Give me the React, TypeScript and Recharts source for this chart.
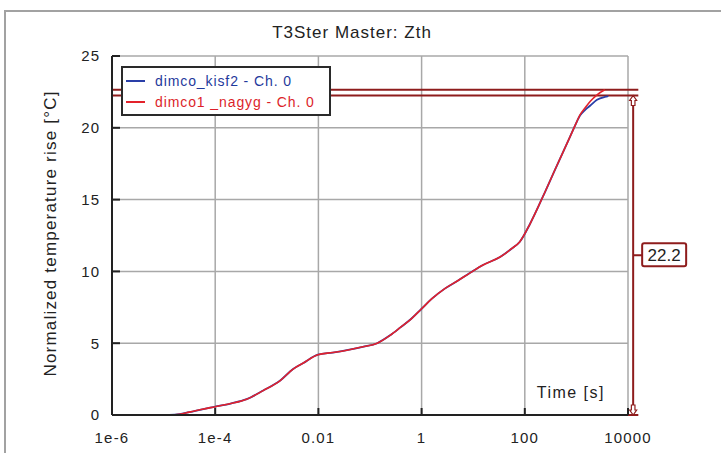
import {
  LineChart,
  Line,
  XAxis,
  YAxis,
  CartesianGrid,
  ReferenceLine,
} from 'recharts'

// time axis is stored as log10(t / s)
const xTicks = [-6, -4, -2, 0, 2, 4]
const xTickLabels = ['1e-6', '1e-4', '0.01', '1', '100', '10000']
const yTicks = [0, 5, 10, 15, 20, 25]

const nagygTime = [
  -6, -5, -4.78, -4.5, -4.25, -4, -3.7, -3.39, -3.07, -2.74, -2.49, -2.3, -2.01,
  -1.72, -1.4, -1.14, -0.86, -0.61, -0.41, -0.2, 0, 0.2, 0.45, 0.7, 0.94, 1.19,
  1.52, 1.75, 1.9, 2.1, 2.35, 2.6, 2.88, 2.98, 3.07, 3.17, 3.27, 3.4, 3.55,
]
const nagygRise = [
  0, 0, 0.02, 0.2, 0.4, 0.58, 0.8, 1.1, 1.7, 2.4, 3.2, 3.6, 4.2, 4.35, 4.55,
  4.75, 5.0, 5.55, 6.1, 6.7, 7.4, 8.1, 8.8, 9.35, 9.9, 10.45, 11.0, 11.6, 12.05,
  13.3, 15.2, 17.2, 19.4, 20.2, 20.9, 21.4, 21.85, 22.3, 22.65,
]
const kisf2Time = [
  -6, -5, -4.78, -4.5, -4.25, -4, -3.7, -3.39, -3.07, -2.74, -2.49, -2.3, -2.01,
  -1.72, -1.4, -1.14, -0.86, -0.61, -0.41, -0.2, 0, 0.2, 0.45, 0.7, 0.94, 1.19,
  1.52, 1.75, 1.9, 2.1, 2.35, 2.6, 2.88, 2.98, 3.07, 3.17, 3.27, 3.4, 3.55, 3.62,
]
const kisf2Rise = [
  0, 0, 0.02, 0.2, 0.4, 0.58, 0.8, 1.1, 1.7, 2.4, 3.2, 3.6, 4.2, 4.35, 4.55,
  4.75, 5.0, 5.55, 6.1, 6.7, 7.4, 8.1, 8.8, 9.35, 9.9, 10.45, 11.0, 11.6, 12.05,
  13.3, 15.2, 17.2, 19.4, 20.2, 20.85, 21.25, 21.55, 21.95, 22.15, 22.2,
]

const seriesNames = ['dimco_kisf2 - Ch. 0', 'dimco1 _nagyg - Ch. 0']
const seriesColors = ['#2a3fa8', '#e3222b']

// cursor lines of the measurement
const cursorTop = 22.65
const cursorLow = 22.25
const cursorX = 4.1
const cursorEnd = 4.2
const riseDelta = 22.2

const kisf2Data = kisf2Time.map((t, i) => ({ t, v: kisf2Rise[i] }))
const nagygData = nagygTime.map((t, i) => ({ t, v: nagygRise[i] }))

const FONT = '"Liberation Sans", Arial, sans-serif'
const DARK_RED = '#8e1c1c'

function BottomTick({ x, y, payload }: any) {
  const i = xTicks.indexOf(payload.value)
  return (
    <g>
      <line x1={x} x2={x} y1={y - 17} y2={y - 24} stroke="#222" strokeWidth={2} />
      <text x={x} y={y} dy="0.71em" textAnchor="middle" fontSize={15} letterSpacing={1.2} fill="#222" fontFamily={FONT}>
        {xTickLabels[i]}
      </text>
    </g>
  )
}

function TopTick({ x, y }: any) {
  return <line x1={x} x2={x} y1={y} y2={y + 7} stroke="#222" strokeWidth={2} />
}

function LeftTick({ x, y, payload }: any) {
  return (
    <g>
      <line x1={x + 12} x2={x + 20} y1={y} y2={y} stroke="#222" strokeWidth={2} />
      <text x={x} y={y} dy="0.36em" textAnchor="end" fontSize={15} letterSpacing={1} fill="#222" fontFamily={FONT}>
        {payload.value}
      </text>
    </g>
  )
}

function RightTick({ x, y }: any) {
  return <line x1={x} x2={x - 8} y1={y} y2={y} stroke="#222" strokeWidth={2} />
}

function DimensionLine(props: any) {
  const { x1, y1, y2 } = props
  const mid = (y1 + y2) / 2
  const up = `${x1},${y1} ${x1 - 3.5},${y1 + 5} ${x1 - 1.8},${y1 + 5} ${x1 - 1.8},${y1 + 10} ${x1 + 1.8},${y1 + 10} ${x1 + 1.8},${y1 + 5} ${x1 + 3.5},${y1 + 5}`
  const down = `${x1},${y2} ${x1 - 3.5},${y2 - 5} ${x1 - 1.8},${y2 - 5} ${x1 - 1.8},${y2 - 10} ${x1 + 1.8},${y2 - 10} ${x1 + 1.8},${y2 - 5} ${x1 + 3.5},${y2 - 5}`
  return (
    <g>
      <line x1={x1} x2={x1} y1={y1 + 10} y2={y2 - 10} stroke={DARK_RED} strokeWidth={2} />
      <polygon points={up} fill="#fff" stroke={DARK_RED} strokeWidth={1.2} />
      <polygon points={down} fill="#fff" stroke={DARK_RED} strokeWidth={1.2} />
      <line x1={x1} x2={x1 + 9} y1={mid} y2={mid} stroke={DARK_RED} strokeWidth={2} />
      <rect x={x1 + 9} y={mid - 12} width={44} height={23} rx={2} fill="#fff" stroke={DARK_RED} strokeWidth={2} />
      <text x={x1 + 31} y={mid} dy="0.36em" textAnchor="middle" fontSize={17} fill="#222" fontFamily={FONT}>
        {riseDelta.toFixed(1)}
      </text>
    </g>
  )
}

export default function App() {
  return (
    <div style={{ position: 'absolute', left: 0, top: 0, width: 721, height: 453, background: '#fff', overflow: 'hidden', fontFamily: FONT }}>
      <div style={{ position: 'absolute', left: 4, top: 10, width: 740, height: 470, border: '2px solid #a2a2a2', boxSizing: 'border-box' }} />
      <div style={{ position: 'absolute', left: 152, top: 23, width: 400, textAlign: 'center', fontSize: 17, letterSpacing: 1, color: '#222', lineHeight: '20px' }}>
        T3Ster Master: Zth
      </div>
      <LineChart
        width={721}
        height={453}
        margin={{ top: 56, right: 93, left: 0, bottom: 0 }}
        style={{ position: 'absolute', left: 0, top: 0 }}
      >
        <CartesianGrid xAxisId="bottom" yAxisId="left" stroke="#a8a8a8" strokeWidth={1.5} />
        <XAxis
          xAxisId="bottom"
          type="number"
          dataKey="t"
          domain={[-6, 4]}
          ticks={xTicks}
          height={38}
          tickSize={0}
          tickMargin={17}
          axisLine={{ stroke: '#222', strokeWidth: 2 }}
          tick={BottomTick}
          label={{
            content: ({ viewBox }: any) => (
              <text x={viewBox.x + viewBox.width - 23} y={viewBox.y - 17} textAnchor="end" fontSize={16} letterSpacing={1.5} fill="#222" fontFamily={FONT}>
                Time [s]
              </text>
            ),
          }}
        />
        <XAxis
          xAxisId="top"
          orientation="top"
          type="number"
          dataKey="t"
          domain={[-6, 4]}
          ticks={xTicks}
          height={0}
          tickSize={0}
          tickMargin={0}
          axisLine={{ stroke: '#222', strokeWidth: 2 }}
          tick={TopTick}
        />
        <YAxis
          yAxisId="left"
          type="number"
          domain={[0, 25]}
          ticks={yTicks}
          width={112}
          tickSize={0}
          tickMargin={12}
          axisLine={{ stroke: '#222', strokeWidth: 2 }}
          tick={LeftTick}
          label={{
            content: ({ viewBox }: any) => {
              const cy = viewBox.y + viewBox.height / 2 - 2
              return (
                <text x={50} y={cy} transform={`rotate(-90 50 ${cy})`} dy="0.36em" textAnchor="middle" fontSize={17} letterSpacing={1.2} fill="#222" fontFamily={FONT}>
                  Normalized temperature rise [°C]
                </text>
              )
            },
          }}
        />
        <YAxis
          yAxisId="right"
          orientation="right"
          type="number"
          domain={[0, 25]}
          ticks={yTicks}
          width={0}
          tickSize={0}
          tickMargin={0}
          axisLine={{ stroke: '#222', strokeWidth: 2 }}
          tick={RightTick}
        />
        <ReferenceLine
          xAxisId="bottom"
          yAxisId="left"
          segment={[{ x: -6, y: 0 }, { x: cursorEnd, y: 0 }]}
          stroke={DARK_RED}
          strokeWidth={2}
          ifOverflow="visible"
        />
        <ReferenceLine
          xAxisId="bottom"
          yAxisId="left"
          segment={[{ x: -6, y: cursorTop }, { x: cursorEnd, y: cursorTop }]}
          stroke={DARK_RED}
          strokeWidth={2}
          ifOverflow="visible"
        />
        <ReferenceLine
          xAxisId="bottom"
          yAxisId="left"
          segment={[{ x: -6, y: cursorLow }, { x: cursorEnd, y: cursorLow }]}
          stroke={DARK_RED}
          strokeWidth={2}
          ifOverflow="visible"
        />
        <Line
          xAxisId="bottom"
          yAxisId="left"
          data={kisf2Data}
          dataKey="v"
          type="monotone"
          stroke={seriesColors[0]}
          strokeWidth={1.8}
          dot={false}
          isAnimationActive={false}
        />
        <Line
          xAxisId="bottom"
          yAxisId="left"
          data={nagygData}
          dataKey="v"
          type="monotone"
          stroke={seriesColors[1]}
          strokeWidth={1.6}
          dot={false}
          isAnimationActive={false}
        />
        <ReferenceLine
          xAxisId="bottom"
          yAxisId="left"
          segment={[{ x: cursorX, y: cursorLow }, { x: cursorX, y: 0 }]}
          ifOverflow="visible"
          shape={DimensionLine}
        />
      </LineChart>
      <div
        style={{
          position: 'absolute',
          left: 121,
          top: 66,
          width: 210,
          height: 50,
          border: '2px solid #2a2a2a',
          boxSizing: 'border-box',
          background: '#fff',
        }}
      >
        {seriesNames.map((name, i) => (
          <div key={name} style={{ position: 'absolute', left: 3, top: 4 + i * 21, height: 18, display: 'flex', alignItems: 'center' }}>
            <div style={{ width: 19, height: 2, background: seriesColors[i] }} />
            <span style={{ marginLeft: 10, fontSize: 14, letterSpacing: 0.9, color: i === 0 ? '#1f3a9c' : '#dc1f2a', whiteSpace: 'nowrap' }}>
              {name}
            </span>
          </div>
        ))}
      </div>
    </div>
  )
}
